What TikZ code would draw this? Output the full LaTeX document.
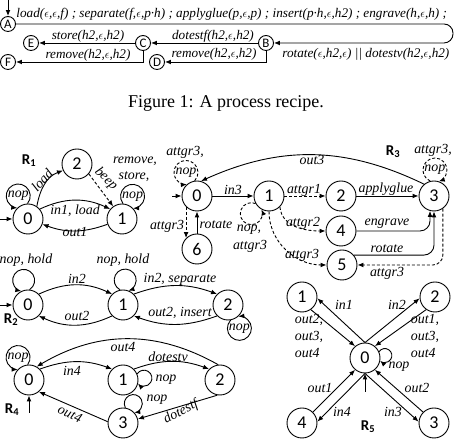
\documentclass[tikz,border=0pt]{standalone}
\usepackage{fontspec}
\setmainfont{Liberation Serif}
\newfontfamily\calfont{Carlito}
\usetikzlibrary{arrows.meta,calc}
\newcommand{\autloop}[6]{%
  \pgfmathsetmacro{\lal}{acos((#3*#3+#4*#4-237)/(2*#3*#4))}%
  \pgfmathsetmacro{\lst}{#2+180+#5*\lal}%
  \pgfmathsetmacro{\ldl}{#5*(360-2*\lal)}%
  \draw[->,#6] ($(#1)+(#2:#3)+(\lst:#4)$) arc[start angle=\lst, delta angle=\ldl, radius=#4];%
}
\begin{document}
\begin{tikzpicture}[x=1pt,y=1pt,line width=0.9pt,
  >={Latex[length=6pt,width=4.8pt]},
  st/.style={circle,draw,minimum size=30pt,inner sep=0pt,font=\calfont\fontsize{18}{18}\selectfont},
  sm/.style={circle,draw,minimum size=15pt,inner sep=0pt,font=\calfont\fontsize{13}{13}\selectfont},
  lb/.style={font=\fontsize{13.9}{16.8}\selectfont\itshape,inner sep=0pt},
  tl/.style={font=\fontsize{13.2}{15}\selectfont\itshape,inner sep=0pt},
  dsh/.style={dash pattern=on 3pt off 2pt},
  rl/.style={font=\calfont\bfseries\fontsize{15}{15}\selectfont,inner sep=0pt}]
\useasboundingbox (0,0) rectangle (456,446);
% ---------- process recipe ----------
\node[sm] (A) at (8,422) {A};
\node[sm] (B) at (266,403) {B};
\node[sm] (C) at (143,403) {C};
\node[sm] (D) at (157,384) {D};
\node[sm] (E) at (31,403) {E};
\node[sm] (F) at (8,384) {F};
\coordinate (Ai) at (8,446);
\draw[->] (Ai) -- (A);
\coordinate (Ar1) at (453,422);
\coordinate (Ar2) at (453,403);
\draw[->,rounded corners=9pt] (A) -- (Ar1) -- (Ar2) -- (B);
\node[tl,anchor=west] (tA) at (16,432) {load($\epsilon$,$\epsilon$,f) ; separate(f,$\epsilon$,p·h) ; applyglue(p,$\epsilon$,p) ; insert(p·h,$\epsilon$,h2) ; engrave(h,$\epsilon$,h) ;};
\draw[->] (B) -- (C);
\node[tl] (tB) at (213,410) {dotestf(h2,$\epsilon$,h2)};
\draw[->] (B.south) |- (D.east);
\node[tl] (tD) at (214,392) {remove(h2,$\epsilon$,h2)};
\draw[->] (C) -- (E);
\node[tl] (tE) at (88,410) {store(h2,$\epsilon$,h2)};
\draw[->] (C.south) |- (F.east);
\node[tl] (tF) at (88,391) {remove(h2,$\epsilon$,h2)};
\node[tl,anchor=west] (tR) at (282,392) {rotate($\epsilon$,h2,$\epsilon$) || dotestv(h2,$\epsilon$,h2)};
\node[font=\fontsize{18}{18}\selectfont] (cap) at (226,343) {Figure 1: A process recipe.};
% ---------- R1 ----------
\node[st] (a0) at (28,227) {0};
\node[st] (a1) at (122,227) {1};
\node[st] (a2) at (77,282) {2};
\node[rl] (ra) at (29,285) {R\textsubscript{1}};
\coordinate (ai) at (0,227);
\draw[->] (ai) -- (a0);
\autloop{a0}{113}{25}{12}{1}{}
\node[lb] (la0) at ($(a0)+(113:25)$) {nop};
\autloop{a1}{65}{25}{12}{-1}{}
\node[lb] (la1) at ($(a1)+(65:25)$) {nop};
\node[lb] (la1b) at (134,269) {store,};
\node[lb] (la1c) at (135,285) {remove,};
\draw[->] (a0.55) to[out=80,in=200] (a2.205);
\node[lb,rotate=48] (la02) at (42,266) {load};
\draw[->,dsh] (a2.-40) -- (a1.125);
\node[lb,rotate=-45] (la21) at (106,267) {beep};
\draw[->] (a0.40) to[bend left=25] (a1.140);
\node[lb] (la01) at (75,235) {in1, load};
\draw[->] (a1.200) to[bend left=20] (a0.-20);
\node[lb] (la10) at (75,214) {out1};
% ---------- R2 ----------
\node[st] (b0) at (28,141) {0};
\node[st] (b1) at (123,141) {1};
\node[st] (b2) at (228,141) {2};
\node[rl] (rb) at (11,126) {R\textsubscript{2}};
\coordinate (bi) at (0,141);
\draw[->] (bi) -- (b0);
\autloop{b0}{100}{25}{11}{1}{}
\autloop{b1}{85}{25}{11}{-1}{}
\node[lb] (lb0) at (26,186) {nop, hold};
\node[lb] (lb1) at (123,186) {nop, hold};
\autloop{b2}{-64}{26}{12}{1}{}
\node[lb] (lb2) at ($(b2)+(-64:26)$) {nop};
\draw[->] (b0.45) to[bend left=25] (b1.135);
\node[lb] (lb01) at (77,167) {in2};
\draw[->] (b1.225) to[bend left=25] (b0.-45);
\node[lb] (lb10) at (77,130) {out2};
\draw[->] (b1.45) to[bend left=20] (b2.135);
\node[lb] (lb12) at (180,167) {in2, separate};
\draw[->] (b2.225) to[bend left=20] (b1.-45);
\node[lb] (lb21) at (180,133) {out2, insert};
% ---------- R4 ----------
\node[st] (d0) at (29,66) {0};
\node[st] (d1) at (123,66) {1};
\node[st] (d2) at (220,66) {2};
\node[st] (d3) at (123,23) {3};
\node[rl] (rd) at (12,36) {R\textsubscript{4}};
\coordinate (di) at (29,33);
\draw[->] (di) -- (d0);
\autloop{d0}{116}{25}{12}{1}{}
\node[lb] (ld0) at ($(d0)+(116:25)$) {nop};
\autloop{d1}{5}{21}{8}{-1}{}
\node[lb] (ld1) at (166,66) {nop};
\autloop{d3}{62}{22}{9}{-1}{}
\node[lb] (ld3) at (157,46) {nop};
\draw[->] (d0.45) to[bend left=20] (d1.135);
\node[lb] (ld01) at (72,75) {in4};
\draw[->] (d1.45) to[bend left=20] (d2.135);
\node[lb] (ld12) at (168,89) {dotestv};
\draw[->] (d2.97) to[bend right=30] (d0.60);
\node[lb] (ld20) at (123,99) {out4};
\draw[->] (d2.-100) -- (d3.15);
\node[lb,rotate=28] (ld23) at (181,34) {dotestf};
\draw[->] (d3.175) -- (d0.-50);
\node[lb,rotate=-25] (ld30) at (70,32) {out4};
% ---------- R3 ----------
\node[st] (c0) at (197,250) {0};
\node[st] (c1) at (269,250) {1};
\node[st] (c2) at (341,250) {2};
\node[st] (c3) at (434,250) {3};
\node[st] (c4) at (341,215) {4};
\node[st] (c5) at (342,181) {5};
\node[st] (c6) at (197,197) {6};
\node[rl] (rc) at (393,294) {R\textsubscript{3}};
\coordinate (ci) at (172,250);
\draw[->] (ci) -- (c0);
\autloop{c0}{115}{26}{12}{1}{dsh}
\node[lb] (lc0) at ($(c0)+(115:26)$) {nop};
\node[lb] (lc0b) at (185,294) {attgr3,};
\autloop{c3}{88}{26}{12}{-1}{dsh}
\node[lb] (lc3) at ($(c3)+(88:26)$) {nop};
\node[lb] (lc3b) at (433,296) {attgr3,};
\autloop{c1}{225}{25}{11}{1}{dsh}
\node[lb] (lc1) at (249,216) {nop,};
\node[lb] (lc1b) at (250,200) {attgr3};
\draw[->] (c0) -- (c1);
\node[lb] (lc01) at (233,256) {in3};
\draw[->,dsh] (c1) -- (c2);
\node[lb] (lc12) at (304,256) {attgr1};
\draw[->] (c2) -- (c3);
\node[lb] (lc23) at (386,257) {applyglue};
\draw[->] (c3.130) to[bend right=25] (c0.75);
\node[lb] (lc30) at (312,286) {out3};
\draw[->,dsh] (c1.-45) to[out=-85,in=180] (c4);
\node[lb] (lc14) at (303,223) {attgr2};
\draw[->,dsh] (c1.-90) to[out=-90,in=180] (c5);
\node[lb] (lc15) at (302,191) {attgr3};
\draw[->,rounded corners=10pt] (c4.east) -| (c3.-105);
\node[lb] (lc43) at (387,222) {engrave};
\draw[->,rounded corners=10pt] (c5.40) -| (c3.south);
\node[lb] (lc53) at (387,197) {rotate};
\draw[->,dsh,rounded corners=10pt] (c3.-55) |- (c5.east);
\node[lb] (lc35) at (387,173) {attgr3};
\draw[->,dsh] (c0.-135) -- (c6.135);
\node[lb] (lc06) at (167,220) {attgr3};
\draw[->] (c6) -- (c0);
\node[lb] (lc60) at (216,221) {rotate};
% ---------- R5 ----------
\node[st] (e0) at (365,88) {0};
\node[st] (e1) at (302,149) {1};
\node[st] (e2) at (435,149) {2};
\node[st] (e3) at (434,23) {3};
\node[st] (e4) at (302,23) {4};
\node[rl] (re) at (368,19) {R\textsubscript{5}};
\coordinate (ei) at (365,54);
\draw[->] (ei) -- (e0);
\autloop{e0}{7}{20}{7}{-1}{}
\node[lb] (le0) at (399,79) {nop};
\draw[->] (e0.90) -- (e1.-5);
\draw[->] (e1.-55) -- (e0.130);
\draw[->] (e0.90) -- (e2.185);
\draw[->] (e2.-125) -- (e0.50);
\draw[->] (e4.45) -- (e0.230);
\draw[->] (e0.-90) -- (e4.5);
\draw[->] (e3.135) -- (e0.-50);
\draw[->] (e0.-90) -- (e3.175);
\node[lb] (le01) at (344,141) {in1};
\node[lb,align=left] (le10) at (309,110) {out2,\\out3,\\out4};
\node[lb] (le02) at (397,141) {in2};
\node[lb,align=left] (le20) at (425,110) {out1,\\out3,\\out4};
\node[lb] (le40) at (320,58) {out1};
\node[lb] (le04) at (342,34) {in4};
\node[lb] (le03) at (393,34) {in3};
\node[lb] (le30) at (417,58) {out2};
\end{tikzpicture}
\end{document}
